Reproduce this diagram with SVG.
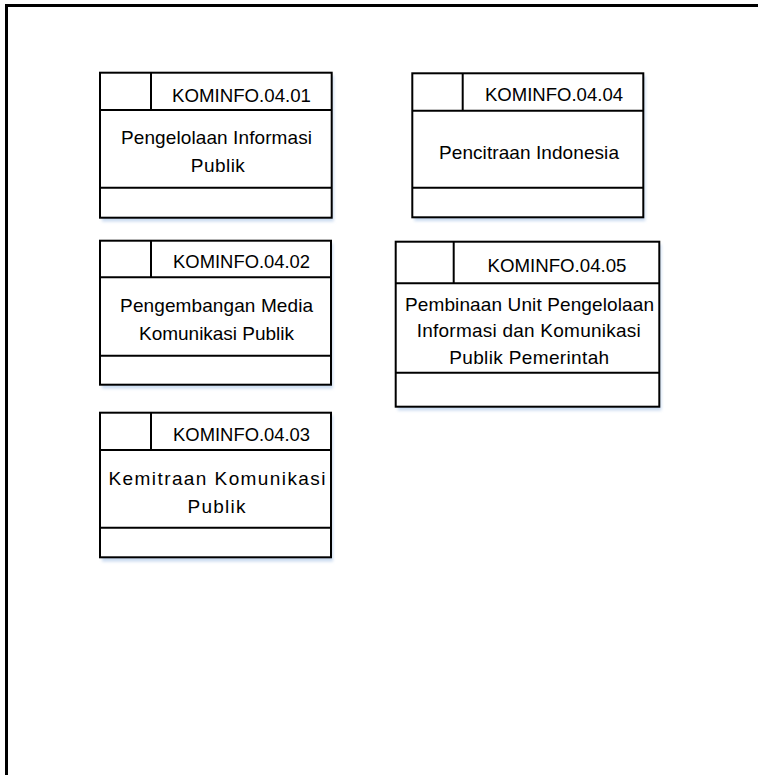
<svg xmlns="http://www.w3.org/2000/svg" width="758" height="775" viewBox="0 0 758 775">
<style>
.frame{fill:none;stroke:#000;stroke-width:3}
.box{fill:#fff;stroke:#000;stroke-width:2}
.ln{stroke:#000;stroke-width:2;fill:none}
.sh{fill:#c9daf0;filter:url(#blur)}
text{font-family:"Liberation Sans",Arial,sans-serif;font-size:19px;fill:#000;text-anchor:middle}
</style>
<defs>
<filter id="blur" x="-10%" y="-10%" width="120%" height="130%"><feGaussianBlur stdDeviation="1.5"/></filter>
</defs>
<rect x="0" y="0" width="758" height="775" fill="#fff"/>
<rect class="frame" x="6.5" y="5.5" width="820" height="820"/>

<g id="node-04-01">
<rect class="sh" x="102" y="75.5" width="231.7" height="146"/>
<rect class="box" x="100" y="72.7" width="231.7" height="145"/>
<line class="ln" x1="151" y1="72.7" x2="151" y2="110"/>
<line class="ln" x1="100" y1="110" x2="331.7" y2="110"/>
<line class="ln" x1="100" y1="187.7" x2="331.7" y2="187.7"/>
<text x="241.5" y="101.7" textLength="139" lengthAdjust="spacingAndGlyphs">KOMINFO.04.01</text>
<text x="216.5" y="144.3" textLength="191" lengthAdjust="spacing">Pengelolaan Informasi</text>
<text x="217.8" y="172.3" textLength="54" lengthAdjust="spacing">Publik</text>
</g>

<g id="node-04-02">
<rect class="sh" x="102" y="243.5" width="231" height="145"/>
<rect class="box" x="100" y="240.7" width="231" height="144"/>
<line class="ln" x1="151" y1="240.7" x2="151" y2="277.3"/>
<line class="ln" x1="100" y1="277.3" x2="331" y2="277.3"/>
<line class="ln" x1="100" y1="355.7" x2="331" y2="355.7"/>
<text x="241.6" y="268.3" textLength="137" lengthAdjust="spacingAndGlyphs">KOMINFO.04.02</text>
<text x="216.6" y="311.7" textLength="193" lengthAdjust="spacing">Pengembangan Media</text>
<text x="216.5" y="340" textLength="155" lengthAdjust="spacing">Komunikasi Publik</text>
</g>

<g id="node-04-03">
<rect class="sh" x="102" y="415.5" width="231" height="146"/>
<rect class="box" x="100" y="412.7" width="231" height="144.6"/>
<line class="ln" x1="151" y1="412.7" x2="151" y2="450"/>
<line class="ln" x1="100" y1="450" x2="331" y2="450"/>
<line class="ln" x1="100" y1="527.7" x2="331" y2="527.7"/>
<text x="241.6" y="441" textLength="137" lengthAdjust="spacingAndGlyphs">KOMINFO.04.03</text>
<text x="217" y="485" textLength="217" lengthAdjust="spacing">Kemitraan Komunikasi</text>
<text x="216.5" y="513.3" textLength="58" lengthAdjust="spacing">Publik</text>
</g>

<g id="node-04-04">
<rect class="sh" x="414.3" y="76" width="231" height="145"/>
<rect class="box" x="412.3" y="73.3" width="231" height="144"/>
<line class="ln" x1="462.7" y1="73.3" x2="462.7" y2="110.7"/>
<line class="ln" x1="412.3" y1="110.7" x2="643.3" y2="110.7"/>
<line class="ln" x1="412.3" y1="187.7" x2="643.3" y2="187.7"/>
<text x="554" y="101" textLength="138" lengthAdjust="spacingAndGlyphs">KOMINFO.04.04</text>
<text x="529" y="159" textLength="180" lengthAdjust="spacing">Pencitraan Indonesia</text>
</g>

<g id="node-04-05">
<rect class="sh" x="397.7" y="244.5" width="263.6" height="166"/>
<rect class="box" x="395.7" y="241.7" width="263.6" height="165"/>
<line class="ln" x1="453.7" y1="241.7" x2="453.7" y2="283.3"/>
<line class="ln" x1="395.7" y1="283.3" x2="659.3" y2="283.3"/>
<line class="ln" x1="395.7" y1="372.7" x2="659.3" y2="372.7"/>
<text x="557" y="272.3" textLength="139" lengthAdjust="spacingAndGlyphs">KOMINFO.04.05</text>
<text x="529.5" y="311" textLength="249" lengthAdjust="spacing">Pembinaan Unit Pengelolaan</text>
<text x="528.7" y="336.7" textLength="224" lengthAdjust="spacing">Informasi dan Komunikasi</text>
<text x="529.2" y="364" textLength="160" lengthAdjust="spacing">Publik Pemerintah</text>
</g>

<g id="connectors"></g>
</svg>
